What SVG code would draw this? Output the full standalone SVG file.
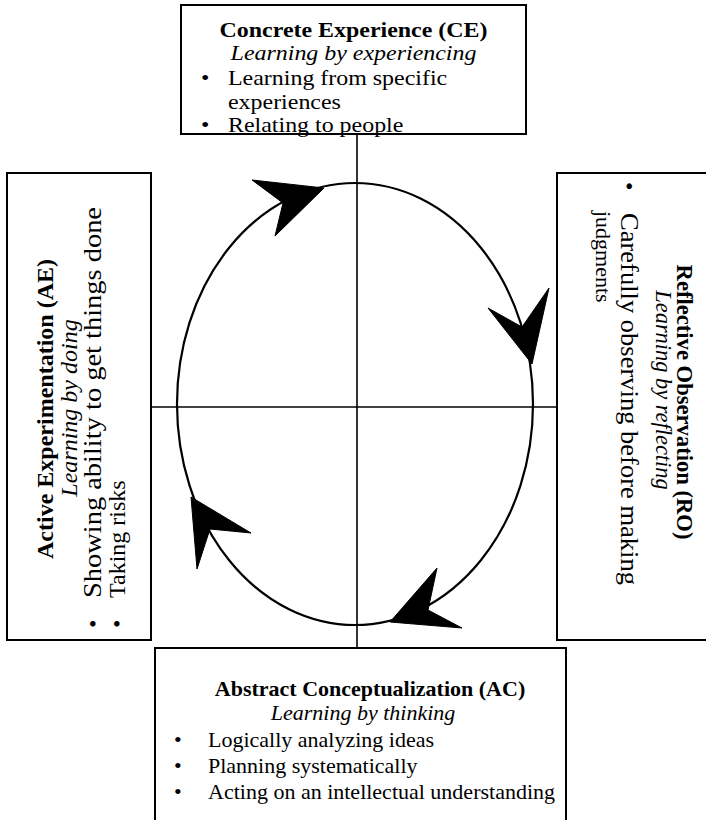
<svg xmlns="http://www.w3.org/2000/svg" width="706" height="820" viewBox="0 0 706 820">
<style>
.box{fill:#fff;stroke:#000;stroke-width:2}
.t{font-family:"Liberation Serif","Times New Roman",serif;font-size:24px;fill:#000}
.s21{font-size:21px}
.s22{font-size:22px}
.s25{font-size:25px}
.b{font-weight:bold}
.i{font-style:italic}
.m{text-anchor:middle}
.ax{stroke:#000;stroke-width:1.6;fill:none}
.cyc{stroke:#000;stroke-width:2.2;fill:none}
.ah{fill:#000;stroke:#000;stroke-width:1;stroke-linejoin:miter}
</style>
<rect width="706" height="820" fill="#fff"/>
<g id="connectors">
<line class="ax" x1="357" y1="134" x2="357" y2="648"/>
<line class="ax" x1="151" y1="407" x2="557" y2="407"/>
<ellipse class="cyc" cx="355" cy="404" rx="178" ry="221"/>
<polygon class="ah" points="324,188 252,180 283,203 275,236"/>
<polygon class="ah" points="532,364 488,308 522,327 549,288"/>
<polygon class="ah" points="390,622 437,568 428,610 462,628"/>
<polygon class="ah" points="191,497 251,533 210,529 197,569"/>
</g>
<g id="ce">
<rect class="box" x="181" y="5" width="345" height="129"/>
<text class="t s21 b m" transform="translate(353.5,37) scale(1.14,1)">Concrete Experience (CE)</text>
<text class="t s21 i m" transform="translate(353.5,60) scale(1.14,1)">Learning by experiencing</text>
<text class="t s21" transform="translate(201,85) scale(1.14,1)">•</text>
<text class="t s21" transform="translate(228,85) scale(1.14,1)">Learning from specific</text>
<text class="t s21" transform="translate(228,109) scale(1.14,1)">experiences</text>
<text class="t s21" transform="translate(201,132) scale(1.14,1)">•</text>
<text class="t s21" transform="translate(228,132) scale(1.14,1)">Relating to people</text>
</g>
<g id="ae">
<rect class="box" x="7" y="173" width="144" height="467"/>
<text class="t b m" transform="translate(53,409) rotate(-90)">Active Experimentation (AE)</text>
<text class="t i m" transform="translate(77,408) rotate(-90)">Learning by doing</text>
<text class="t" transform="translate(101,628) rotate(-90)">•</text>
<text class="t s25" transform="translate(101,598) rotate(-90)" textLength="391" lengthAdjust="spacingAndGlyphs">Showing ability to get things done</text>
<text class="t" transform="translate(125,628) rotate(-90)">•</text>
<text class="t" transform="translate(125,598) rotate(-90)">Taking risks</text>
</g>
<g id="ro">
<rect class="box" x="557" y="173" width="160" height="467"/>
<text class="t b m" style="font-size:22.6px" transform="translate(677,402) rotate(90)">Reflective Observation (RO)</text>
<text class="t i m" style="font-size:22.4px" transform="translate(656,390) rotate(90)">Learning by reflecting</text>
<text class="t" transform="translate(621,182) rotate(90)">•</text>
<text class="t s25" transform="translate(621,213) rotate(90)" textLength="372" lengthAdjust="spacingAndGlyphs">Carefully observing before making</text>
<text class="t" style="font-size:22px" transform="translate(596,211) rotate(90)">judgments</text>
</g>
<g id="ac">
<rect class="box" x="155" y="648" width="411" height="180"/>
<text class="t s22 b m" x="370" y="696">Abstract Conceptualization (AC)</text>
<text class="t s22 i m" x="363" y="720">Learning by thinking</text>
<text class="t s22" x="174" y="747">•</text>
<text class="t s22" x="208" y="747">Logically analyzing ideas</text>
<text class="t s22" x="174" y="773">•</text>
<text class="t s22" x="208" y="773">Planning systematically</text>
<text class="t s22" x="174" y="799">•</text>
<text class="t s22" x="208" y="799">Acting on an intellectual understanding</text>
</g>
</svg>
